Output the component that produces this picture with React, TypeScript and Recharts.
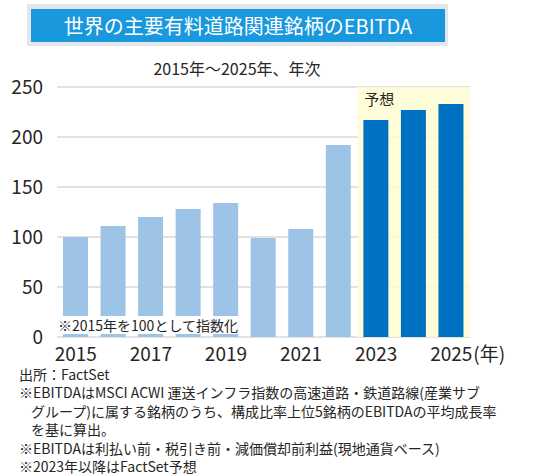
import {
  Bar,
  BarChart,
  CartesianGrid,
  Cell,
  ReferenceArea,
  XAxis,
  YAxis,
} from 'recharts'

const FONT = '"Noto Sans CJK JP", "Noto Sans", sans-serif'

const years = ['2015', '2016', '2017', '2018', '2019', '2020', '2021', '2022', '2023', '2024', '2025']
const ebitdaIndex = [100, 111, 120, 128, 134, 99, 108, 192, 217, 227, 233]
const forecastYears = ['2023', '2024', '2025']
const yTicks = [0, 50, 100, 150, 200, 250]

// [text, indented continuation line?]
const footnotes: [string, boolean][] = [
  ['出所：FactSet', false],
  ['※EBITDAはMSCI ACWI 運送インフラ指数の高速道路・鉄道路線(産業サブ', false],
  ['グループ)に属する銘柄のうち、構成比率上位5銘柄のEBITDAの平均成長率', true],
  ['を基に算出。', true],
  ['※EBITDAは利払い前・税引き前・減価償却前利益(現地通貨ベース)', false],
  ['※2023年以降はFactSet予想', false],
]

const HIST_COLOR = '#9DC3E6'
const FCST_COLOR = '#0070C0'
const TEXT = '#262626'

const data = years.map((year, i) => ({ year, value: ebitdaIndex[i] }))
const lastYear = years[years.length - 1]

function YearTick({ x, y, payload }: any) {
  const label = String(payload.value)
  return (
    <g transform={`translate(${x},${y})`}>
      <text textAnchor="middle" dy="0.71em" fill={TEXT} fontSize={19} fontFamily={FONT}>
        {label}
      </text>
      {label === lastYear && (
        <text x={22} textAnchor="start" dy="0.71em" fill={TEXT} fontSize={19} fontFamily={FONT}>
          (年)
        </text>
      )}
    </g>
  )
}

export default function App() {
  return (
    <div
      style={{
        position: 'absolute',
        top: 0,
        left: 0,
        width: 540,
        height: 475,
        background: '#fff',
        fontFamily: FONT,
        color: TEXT,
      }}
    >
      <div
        style={{
          position: 'absolute',
          left: 27,
          top: 4,
          width: 421,
          height: 42,
          background: '#E3E7EB',
        }}
      >
        <div
          style={{
            position: 'absolute',
            left: 4,
            top: 5,
            right: 3,
            bottom: 4,
            background: '#1A98DD',
            color: '#fff',
            fontSize: 20,
            lineHeight: '33px',
            textAlign: 'center',
          }}
        >
          世界の主要有料道路関連銘柄のEBITDA
        </div>
      </div>

      <div
        style={{
          position: 'absolute',
          left: 0,
          top: 57,
          width: 474,
          textAlign: 'center',
          fontSize: 16,
          lineHeight: '22px',
        }}
      >
        2015年～2025年、年次
      </div>

      <div style={{ position: 'absolute', left: 0, top: 0 }}>
        <BarChart
          width={540}
          height={475}
          data={data}
          margin={{ top: 87, right: 70, left: 12, bottom: 108 }}
          barSize={25}
        >
          <CartesianGrid vertical={false} stroke="#D9D9D9" strokeWidth={1.5} />
          <ReferenceArea
            x1={forecastYears[0]}
            x2={forecastYears[forecastYears.length - 1]}
            y1={0}
            y2={250}
            ifOverflow="visible"
            fill="#FFFCD2"
            fillOpacity={0.85}
            stroke="none"
            label={{
              value: '予想',
              position: 'insideTopLeft',
              offset: 7,
              fill: TEXT,
              fontSize: 15,
              fontFamily: FONT,
            }}
          />
          <XAxis
            dataKey="year"
            interval={1}
            axisLine={false}
            tickLine={false}
            tickSize={0}
            tickMargin={10}
            height={30}
            tick={<YearTick />}
          />
          <YAxis
            type="number"
            domain={[0, 250]}
            ticks={yTicks}
            width={45}
            axisLine={false}
            tickLine={false}
            tickSize={0}
            tickMargin={14}
            tick={{ fill: TEXT, fontSize: 19, fontFamily: FONT }}
          />
          <Bar dataKey="value" isAnimationActive={false}>
            {data.map((d) => (
              <Cell key={d.year} fill={forecastYears.includes(d.year) ? FCST_COLOR : HIST_COLOR} />
            ))}
          </Bar>
        </BarChart>
      </div>

      <div
        style={{
          position: 'absolute',
          left: 56,
          top: 316,
          width: 182,
          height: 18,
          background: '#fff',
          fontSize: 14,
          lineHeight: '18px',
          paddingLeft: 2,
          boxSizing: 'border-box',
          whiteSpace: 'nowrap',
        }}
      >
        ※2015年を100として指数化
      </div>

      <div
        style={{
          position: 'absolute',
          left: 19,
          top: 365,
          fontSize: 14,
          lineHeight: '18.4px',
          whiteSpace: 'nowrap',
        }}
      >
        {footnotes.map(([line, indent]) => (
          <div key={line} style={{ paddingLeft: indent ? 12 : 0 }}>
            {line}
          </div>
        ))}
      </div>
    </div>
  )
}
